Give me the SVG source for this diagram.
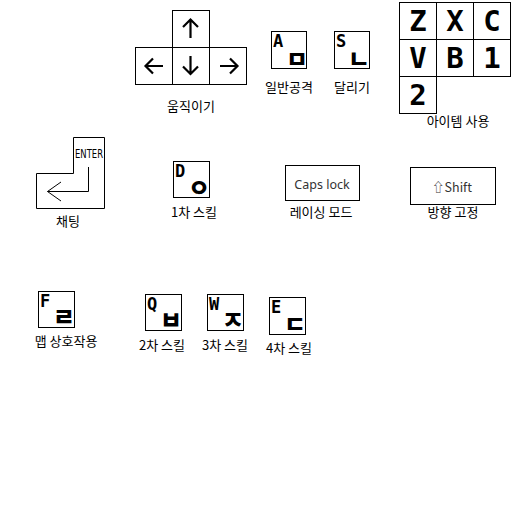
<svg xmlns="http://www.w3.org/2000/svg" width="512" height="512" viewBox="0 0 512 512">
<style>
.k{fill:#fff;stroke:#000;stroke-width:1}
.lb{font-family:"Noto Sans CJK KR","Noto Sans",sans-serif;font-size:13px;fill:#000;text-anchor:middle}
.big{font-family:"DejaVu Sans Mono",monospace;font-weight:bold;font-size:29px;fill:#000;text-anchor:middle}
.sm{font-family:"DejaVu Sans Mono",monospace;font-weight:bold;font-size:17px;fill:#000}
.jm{font-family:"Noto Sans CJK KR",sans-serif;font-weight:900;font-size:24px;fill:#000;text-anchor:middle}
.ar{fill:none;stroke:#000;stroke-width:2.2}
.ln{fill:none;stroke:#000;stroke-width:1}
</style>
<rect width="512" height="512" fill="#fff"/>
<g id="move">
<rect class="k" x="172.5" y="10.5" width="37" height="37"/>
<rect class="k" x="135.5" y="47.5" width="37" height="37"/>
<rect class="k" x="172.5" y="47.5" width="37" height="37"/>
<rect class="k" x="209.5" y="47.5" width="37" height="37"/>
<path class="ar" d="M190.5,20V38M183,27L190.5,19.5L198,27"/>
<path class="ar" d="M145,66H163M153,58.5L145.5,66L153,73.5"/>
<path class="ar" d="M190.5,56V74M183,66.5L190.5,74L198,66.5"/>
<path class="ar" d="M220,66H238M230,58.5L237.5,66L230,73.5"/>
<text class="lb" x="191" y="111">움직이기</text>
</g>
<g id="attack">
<rect class="k" x="271.5" y="31.5" width="35" height="37"/>
<text class="sm" x="273" y="47">A</text>
<text class="jm" x="297" y="68">ㅁ</text>
<text class="lb" x="289" y="92">일반공격</text>
</g>
<g id="run">
<rect class="k" x="334.5" y="31.5" width="35" height="37"/>
<text class="sm" x="336" y="47">S</text>
<text class="jm" x="359" y="68">ㄴ</text>
<text class="lb" x="352" y="92">달리기</text>
</g>
<g id="items">
<rect class="k" x="399.5" y="2.5" width="37" height="37"/>
<rect class="k" x="436.5" y="2.5" width="37" height="37"/>
<rect class="k" x="473.5" y="2.5" width="37" height="37"/>
<rect class="k" x="399.5" y="39.5" width="37" height="37"/>
<rect class="k" x="436.5" y="39.5" width="37" height="37"/>
<rect class="k" x="473.5" y="39.5" width="37" height="37"/>
<rect class="k" x="399.5" y="76.5" width="37" height="37"/>
<text class="big" x="418" y="31">Z</text>
<text class="big" x="455" y="31">X</text>
<text class="big" x="492" y="31">C</text>
<text class="big" x="418" y="68">V</text>
<text class="big" x="455" y="68">B</text>
<text class="big" x="492" y="68">1</text>
<text class="big" x="418" y="105">2</text>
<text class="lb" x="458" y="126">아이템 사용</text>
</g>
<g id="chat">
<path class="k" d="M73.5,137.5H104.5V208.5H36.5V173.5H73.5Z"/>
<text x="89" y="158" style="font-family:'DejaVu Sans Condensed','Liberation Sans Narrow',sans-serif;font-size:13px;text-anchor:middle;fill:#000" textLength="28" lengthAdjust="spacingAndGlyphs">ENTER</text>
<path class="ln" d="M88.5,167V191.5H47.5M61,182L47.5,191.5L61,201"/>
<text class="lb" x="68" y="226">채팅</text>
</g>
<g id="skill1">
<rect class="k" x="173.5" y="161.5" width="36" height="36"/>
<text class="sm" x="175" y="177">D</text>
<text class="jm" x="199" y="197">ㅇ</text>
<text class="lb" x="194" y="217">1차 스킬</text>
</g>
<g id="race">
<rect class="k" x="285.5" y="165.5" width="74" height="35"/>
<text x="322" y="189" style="font-family:'Noto Sans',sans-serif;font-size:12.5px;text-anchor:middle;fill:#333">Caps lock</text>
<text class="lb" x="321" y="217">레이싱 모드</text>
</g>
<g id="dirlock">
<rect class="k" x="410.5" y="167.5" width="85" height="37"/>
<text x="452" y="192" style="font-family:'Noto Sans CJK KR','DejaVu Sans',sans-serif;font-size:12.5px;text-anchor:middle;fill:#333">⇧Shift</text>
<text class="lb" x="453" y="217">방향 고정</text>
</g>
<g id="map">
<rect class="k" x="38.5" y="291.5" width="36" height="36"/>
<text class="sm" x="40" y="307">F</text>
<text class="jm" x="64" y="326">ㄹ</text>
<text class="lb" x="66" y="346">맵 상호작용</text>
</g>
<g id="skill2">
<rect class="k" x="145.5" y="294.5" width="36" height="36"/>
<text class="sm" x="147" y="310">Q</text>
<text class="jm" x="171" y="329">ㅂ</text>
<text class="lb" x="162" y="350">2차 스킬</text>
</g>
<g id="skill3">
<rect class="k" x="207.5" y="294.5" width="36" height="36"/>
<text class="sm" x="209" y="310">W</text>
<text class="jm" x="233" y="329">ㅈ</text>
<text class="lb" x="225" y="350">3차 스킬</text>
</g>
<g id="skill4">
<rect class="k" x="269.5" y="297.5" width="36" height="37"/>
<text class="sm" x="271" y="313">E</text>
<text class="jm" x="295" y="333">ㄷ</text>
<text class="lb" x="289" y="353">4차 스킬</text>
</g>
<g id="connectors"></g>
</svg>
